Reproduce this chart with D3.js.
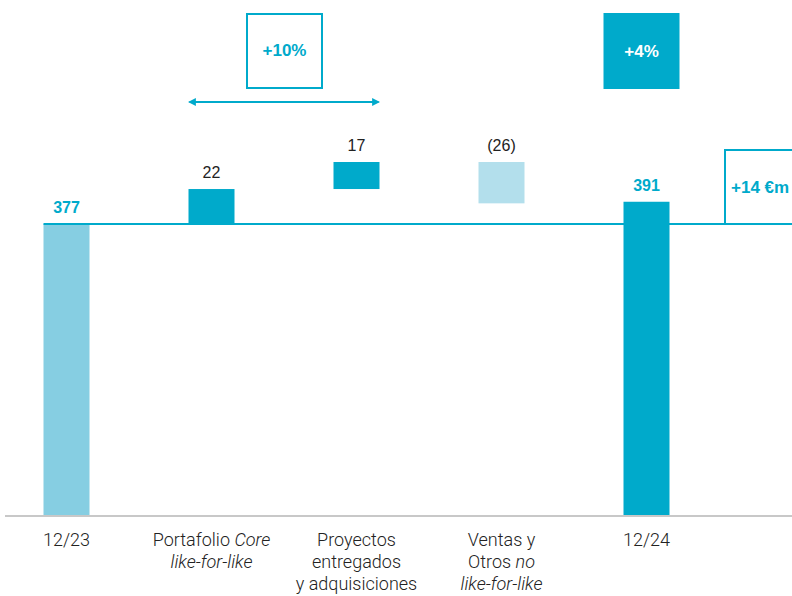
<!DOCTYPE html>
<html>
<head>
<meta charset="utf-8">
<script src="https://cdn.jsdelivr.net/npm/d3@7"></script>
<style>
  body { margin: 0; background: #fff; }
  svg { display: block; font-family: "Liberation Sans", Arial, sans-serif; }
</style>
</head>
<body>
<svg id="chart" width="792" height="596"></svg>
<script>
// categories: each one is a list of lines, each line a list of [text, italic] pieces
var categories = ["12/23", "core", "proyectos", "ventas", "12/24"]
var categoryLines = [
  [[["12/23", false]]],
  [[["Portafolio ", false], ["Core", true]], [["like-for-like", true]]],
  [[["Proyectos", false]], [["entregados", false]], [["y adquisiciones", false]]],
  [[["Ventas y", false]], [["Otros ", false], ["no", true]], [["like-for-like", true]]],
  [[["12/24", false]]]
]
var kinds = ["start", "up", "up", "down", "total"]
var values = [377, 22, 17, -26, 391]
var valueLabels = ["377", "22", "17", "(26)", "391"]

var teal = "#00aacb"
var colors = { start: "#86cee2", up: teal, down: "#b3dfec", total: teal }

var svg = d3.select("#chart")

// the chart's axis is cut: it does not start at zero
var x = d3.scalePoint().domain(categories).range([-6, 719]).padding(0.5)
var y = d3.scaleLinear().domain([194, 416]).range([515, 162])
var barW = 46

// work out bar tops and bottoms
var run = 0
var bars = categories.map(function(c, i) {
  var lo, hi
  if (kinds[i] == "start" || kinds[i] == "total") {
    lo = 194; hi = values[i]; run = values[i]
  } else {
    lo = run; hi = run + values[i]; run = hi
  }
  return { cat: c, kind: kinds[i], lo: Math.min(lo, hi), hi: Math.max(lo, hi), label: valueLabels[i] }
})

// bottom baseline
svg.append("line")
  .attr("x1", 5).attr("x2", 792)
  .attr("y1", y(194) + 1).attr("y2", y(194) + 1)
  .style("stroke", "#c8c8c8").style("stroke-width", 2)

svg.selectAll(".bar")
  .data(bars)
  .join("rect")
  .attr("class", "bar")
  .attr("x", function(d) { return x(d.cat) - barW / 2 })
  .attr("y", function(d) { return y(d.hi) })
  .attr("width", barW)
  .attr("height", function(d) { return y(d.lo) - y(d.hi) })
  .style("fill", function(d) { return colors[d.kind] })

// reference line at the starting value
svg.append("line")
  .attr("x1", x("12/23") - barW / 2).attr("x2", 792)
  .attr("y1", y(377)).attr("y2", y(377))
  .style("stroke", teal).style("stroke-width", 2)

// value labels
svg.selectAll(".val")
  .data(bars)
  .join("text")
  .attr("class", "val")
  .attr("x", function(d) { return x(d.cat) })
  .attr("y", function(d) { return y(d.hi) - 11 })
  .attr("text-anchor", "middle")
  .style("font-size", "16px")
  .style("font-weight", function(d) { return d.kind == "start" || d.kind == "total" ? "bold" : "normal" })
  .style("fill", function(d) { return d.kind == "start" || d.kind == "total" ? teal : "#222" })
  .text(function(d) { return d.label })

// category labels
categoryLines.forEach(function(lines, i) {
  var t = svg.append("text")
    .attr("x", x(categories[i]))
    .attr("y", 546)
    .attr("text-anchor", "middle")
    .style("font-family", "Roboto, sans-serif")
    .style("font-weight", 300)
    .style("font-size", "18px")
    .style("fill", "#222")
  lines.forEach(function(line, j) {
    line.forEach(function(piece, k) {
      var ts = t.append("tspan")
        .style("font-style", piece[1] ? "italic" : "normal")
        .text(piece[0])
      if (k == 0) ts.attr("x", x(categories[i])).attr("dy", j == 0 ? 0 : 22)
    })
  })
})

// +10% box with double arrow over the first two deltas
var boxS = 75
var midA = (x("core") + x("proyectos")) / 2
svg.append("rect")
  .attr("x", midA - boxS / 2 + 0.5).attr("y", 14)
  .attr("width", boxS).attr("height", boxS - 1)
  .style("fill", "none").style("stroke", teal).style("stroke-width", 2)
svg.append("text")
  .attr("x", midA + 0.5).attr("y", 56)
  .attr("text-anchor", "middle")
  .style("font-size", "17px").style("font-weight", "bold").style("fill", teal)
  .text("+10%")

var defs = svg.append("defs")
defs.append("marker")
  .attr("id", "arr").attr("viewBox", "0 0 10 10")
  .attr("refX", 8).attr("refY", 5)
  .attr("markerWidth", 4).attr("markerHeight", 4)
  .attr("orient", "auto-start-reverse")
  .append("path").attr("d", "M0,0L10,5L0,10z").style("fill", teal)
svg.append("line")
  .attr("x1", x("core") - barW / 2 + 1).attr("x2", x("proyectos") + barW / 2 - 1)
  .attr("y1", 102).attr("y2", 102)
  .style("stroke", teal).style("stroke-width", 2)
  .attr("marker-start", "url(#arr)").attr("marker-end", "url(#arr)")

// +4% filled box over 12/24
svg.append("rect")
  .attr("x", x("12/24") - 43).attr("y", 13)
  .attr("width", boxS + 1).attr("height", boxS + 1)
  .style("fill", teal)
svg.append("text")
  .attr("x", x("12/24") - 5).attr("y", 57)
  .attr("text-anchor", "middle")
  .style("font-size", "17px").style("font-weight", "bold").style("fill", "#fff")
  .text("+4%")

// +14 €m box at the right edge, sitting on the reference line
svg.append("rect")
  .attr("x", 725).attr("y", 150)
  .attr("width", 120).attr("height", y(377) - 150)
  .style("fill", "none").style("stroke", teal).style("stroke-width", 2)
svg.append("text")
  .attr("x", 731).attr("y", 193)
  .style("font-size", "17px").style("font-weight", "bold").style("fill", teal)
  .text("+14 €m")
</script>
</body>
</html>
